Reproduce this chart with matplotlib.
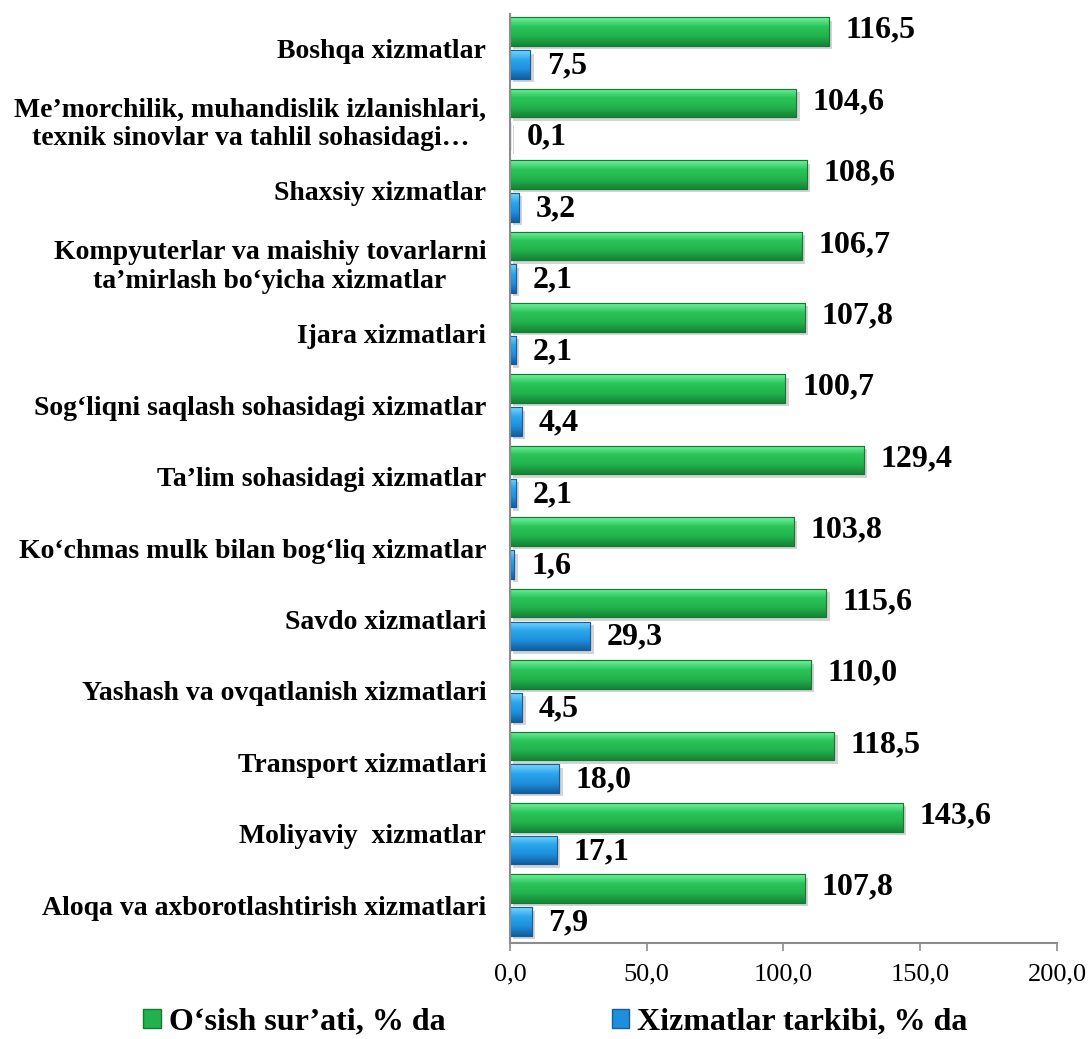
import numpy as np
import matplotlib
matplotlib.use("Agg")
import matplotlib.pyplot as plt
import matplotlib.patheffects as pe
from matplotlib.colors import LinearSegmentedColormap
from matplotlib.patches import Patch

plt.rcParams['font.family'] = ['Liberation Serif', 'DejaVu Serif']

categories = [
    "Boshqa xizmatlar",
    "Me’morchilik, muhandislik izlanishlari,\ntexnik sinovlar va tahlil sohasidagi…",
    "Shaxsiy xizmatlar",
    "Kompyuterlar va maishiy tovarlarni\nta’mirlash bo‘yicha xizmatlar",
    "Ijara xizmatlari",
    "Sog‘liqni saqlash sohasidagi xizmatlar",
    "Ta’lim sohasidagi xizmatlar",
    "Ko‘chmas mulk bilan bog‘liq xizmatlar",
    "Savdo xizmatlari",
    "Yashash va ovqatlanish xizmatlari",
    "Transport xizmatlari",
    "Moliyaviy  xizmatlar",
    "Aloqa va axborotlashtirish xizmatlari",
]
osish = [116.5, 104.6, 108.6, 106.7, 107.8, 100.7, 129.4, 103.8, 115.6, 110.0, 118.5, 143.6, 107.8]
tarkib = [7.5, 0.1, 3.2, 2.1, 2.1, 4.4, 2.1, 1.6, 29.3, 4.5, 18.0, 17.1, 7.9]
series_names = ["O‘sish sur’ati, % da", "Xizmatlar tarkibi, % da"]
xticks = [0, 50, 100, 150, 200]

green = "#22B24C"
blue = "#1E8FDB"
green_cm = LinearSegmentedColormap.from_list("g", ["#158437", "#22B24C", "#2BC45A", "#6FF29A"])
blue_cm = LinearSegmentedColormap.from_list("b", ["#135E9E", "#1E8FDB", "#2AA6EC", "#7AD6FA"])

fig = plt.figure(figsize=(10.89, 10.39), dpi=100)
ax = fig.add_axes([0.4683, 0.0924, 0.5023, 0.8941])

n = len(categories)
y = np.arange(n)[::-1]
h = 0.4
off = 0.23
shadow = [pe.SimplePatchShadow(offset=(2.5, -2.5), shadow_rgbFace="#AAAAAA", alpha=0.5), pe.Normal()]
grad = np.linspace(0, 1, 64).reshape(-1, 1)


def shaded(bars, cmap, edge):
    for b in bars:
        b.set_path_effects(shadow)
        b.set_edgecolor(edge)
        x0, y0 = b.get_x(), b.get_y()
        w, hh = b.get_width(), b.get_height()
        if w <= 0:
            continue
        im = ax.imshow(grad, extent=[x0, x0 + w, y0, y0 + hh], origin="lower",
                       aspect="auto", cmap=cmap, zorder=b.get_zorder() + 0.1)
        im.set_clip_path(b)
        ax.add_patch(plt.Rectangle((x0, y0), w, hh, fill=False, edgecolor=edge,
                                   linewidth=0.8, zorder=b.get_zorder() + 0.2))


gb = ax.barh(y + off, osish, height=h, color=green, linewidth=0.8)
bb = ax.barh(y - off, tarkib, height=h, color=blue, linewidth=0.8)
shaded(gb, green_cm, "#137A33")
shaded(bb, blue_cm, "#135E9E")

for yi, v in zip(y, osish):
    ax.annotate(f"{v:.1f}".replace(".", ","), (v, yi + off + 0.02), xytext=(12, 0),
                textcoords="offset points", va="center", ha="left",
                fontsize=23, fontweight="bold")
for yi, v in zip(y, tarkib):
    ax.annotate(f"{v:.1f}".replace(".", ","), (v, yi - off - 0.02), xytext=(12, 0),
                textcoords="offset points", va="center", ha="left",
                fontsize=23, fontweight="bold")

ax.set_xlim(0, 200)
ax.set_ylim(-0.53, n - 0.524)
ax.set_xticks(xticks)
ax.set_xticklabels([f"{t:.1f}".replace(".", ",") for t in xticks], fontsize=19)
ax.set_yticks(y)
ax.set_yticklabels(categories, fontsize=20, fontweight="bold", ha="right",
                   multialignment="center")
ax.tick_params(axis="y", length=0, pad=17)
ax.tick_params(axis="x", length=6, width=1.2, color="#8C8C8C", pad=9)
for s in ["top", "right"]:
    ax.spines[s].set_visible(False)
for s in ["left", "bottom"]:
    ax.spines[s].set_color("#8C8C8C")
    ax.spines[s].set_linewidth(1.5)

handles = [Patch(facecolor=green, edgecolor="#137A33"), Patch(facecolor=blue, edgecolor="#135E9E")]
fig.legend(handles, series_names, loc="center", bbox_to_anchor=(0.51, 0.016), ncol=2,
           frameon=False, prop={"size": 23, "weight": "bold"}, borderpad=0,
           handlelength=0.55, handleheight=0.55, handletextpad=0.25, columnspacing=5.2)

fig.savefig("out.png", dpi=100)
